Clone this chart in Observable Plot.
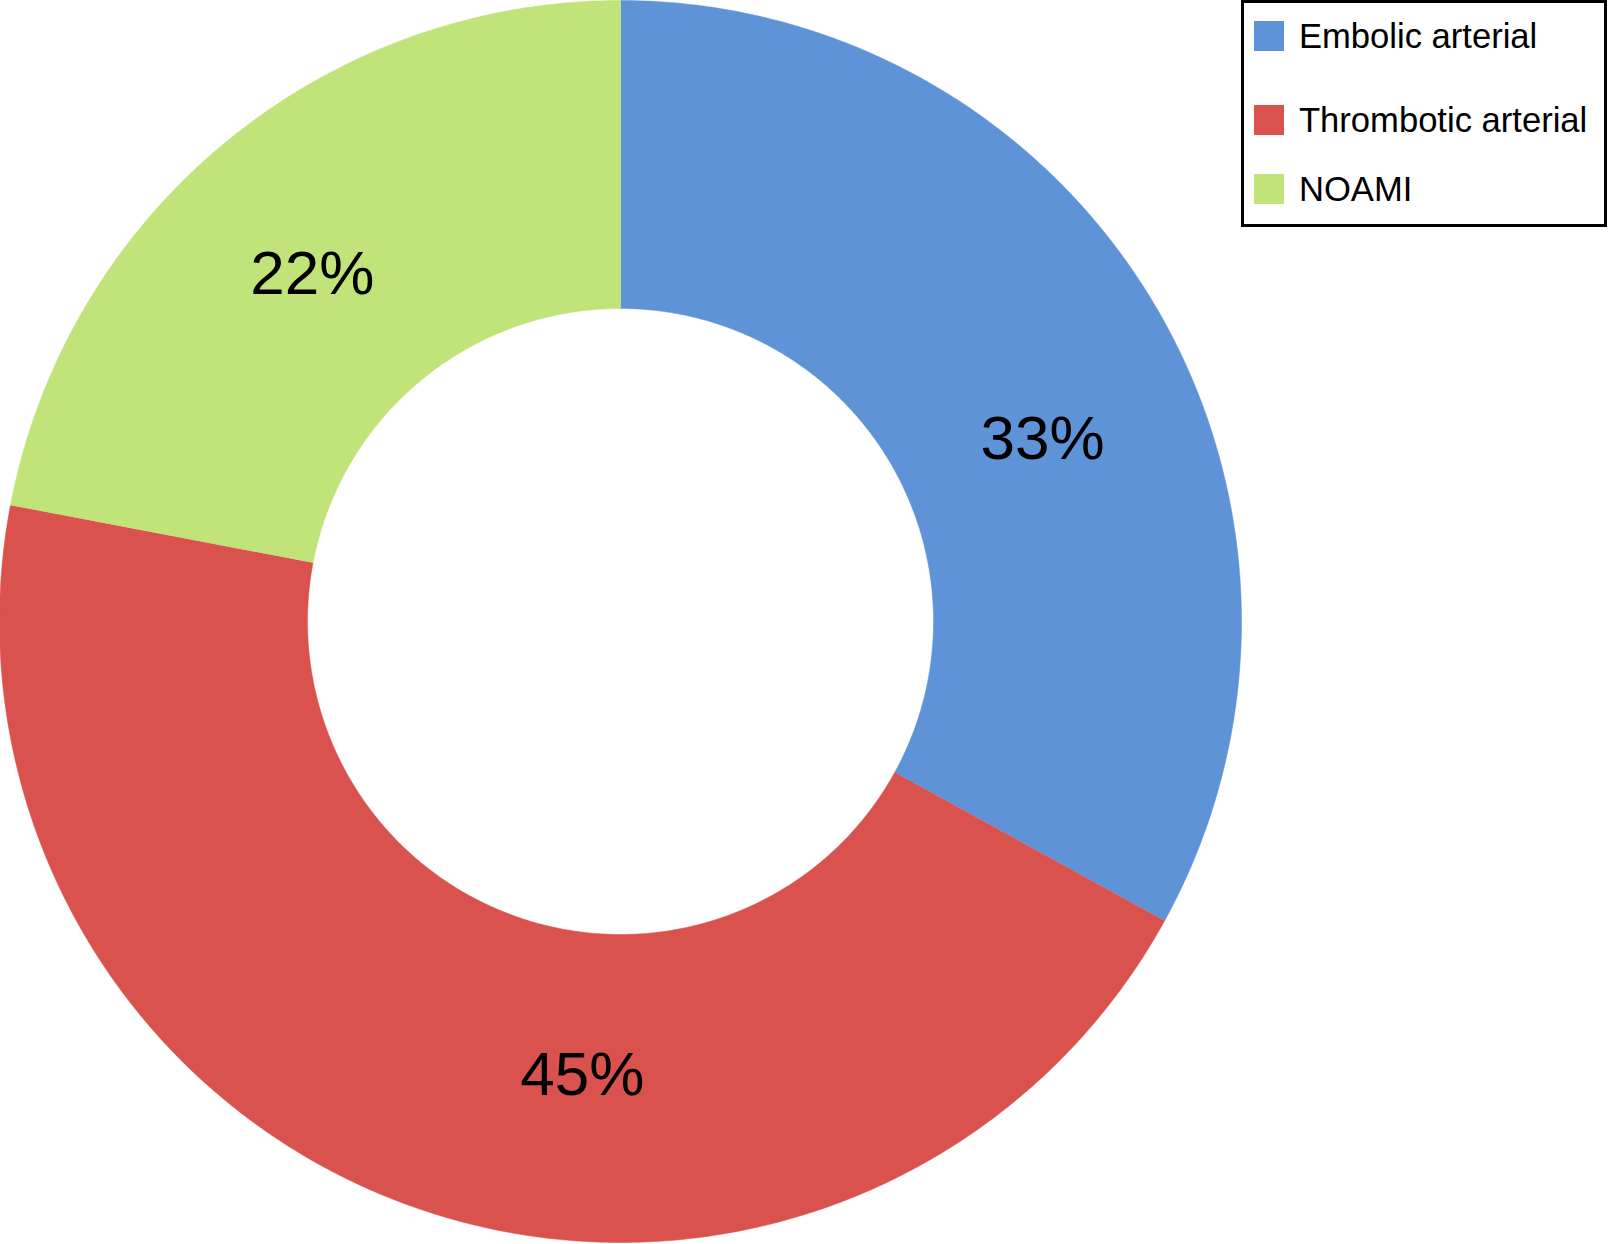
<!DOCTYPE html>
<html>
<head>
<meta charset="utf-8">
<script src="https://cdn.jsdelivr.net/npm/d3@7"></script>
<script src="https://cdn.jsdelivr.net/npm/@observablehq/plot@0.6"></script>
<style>
  html, body { margin: 0; padding: 0; background: #fff; }
  #wrap { position: relative; width: 1608px; height: 1244px; font-family: "Liberation Sans", Arial, Helvetica, sans-serif; }
  #legend { position: absolute; left: 1241px; top: 0px; width: 360px; height: 221px; border: 3px solid #000; background: #fff; }
  .item { position: absolute; left: 10px; height: 40px; display: flex; align-items: center; font-size: 34.6px; color: #000; white-space: nowrap; }
  .sw { width: 30px; height: 30px; margin-right: 15px; }
</style>
</head>
<body>
<div id="wrap"><div id="legend"></div></div>
<script>
// ---- data ----
const categories = ["Embolic arterial", "Thrombotic arterial", "NOAMI"];
const shares = [33, 45, 22];
const labels = ["33%", "45%", "22%"];
const colors = ["#5f93d7", "#d9524e", "#c0e37a"];

// ---- layout constants (not data) ----
const W = 1608, H = 1244;
const CX = 620, CY = 621, R = 621;     // pixels
const INNER = 0.504;                   // inner radius fraction
const labelR = [0.74, 0.735, 0.746];   // label radius fractions
const labelShiftDeg = [7.3, -15, -2.1]; // Excel-style label placement nudges

// ---- build slice geometry from shares ----
const total = d3.sum(shares);
let acc = 0;
const slices = categories.map((c, i) => {
  const a0 = acc / total * 2 * Math.PI;
  acc += shares[i];
  const a1 = acc / total * 2 * Math.PI;
  return {cat: c, a0, a1, i};
});
const pts = [];
for (const s of slices) {
  const n = Math.max(8, Math.ceil((s.a1 - s.a0) / (Math.PI / 360)));
  for (let k = 0; k <= n; k++) {
    const a = s.a0 + (s.a1 - s.a0) * k / n;
    pts.push({cat: s.cat, x: Math.sin(a), y: Math.cos(a)});
  }
  for (let k = n; k >= 0; k--) {
    const a = s.a0 + (s.a1 - s.a0) * k / n;
    pts.push({cat: s.cat, x: INNER * Math.sin(a), y: INNER * Math.cos(a)});
  }
}
const labelData = slices.map(s => {
  const a = (s.a0 + s.a1) / 2 + labelShiftDeg[s.i] * Math.PI / 180;
  return {text: labels[s.i], x: labelR[s.i] * Math.sin(a), y: labelR[s.i] * Math.cos(a)};
});

const chart = Plot.plot({
  width: W, height: H,
  margin: 0,
  style: {background: "transparent", fontFamily: "'Liberation Sans', Arial, Helvetica, sans-serif"},
  x: {domain: [-CX / R, (W - CX) / R], axis: null},
  y: {domain: [-(H - CY) / R, CY / R], axis: null},
  color: {domain: categories, range: colors, type: "ordinal"},
  marks: [
    Plot.line(pts, {x: "x", y: "y", z: "cat", fill: "cat", stroke: "cat", strokeWidth: 0.5, curve: "linear"}),
    Plot.text(labelData, {x: "x", y: "y", text: "text", fontSize: 62, fill: "#000", textAnchor: "middle", dy: -1})
  ]
});
const wrap = document.getElementById("wrap");
wrap.insertBefore(chart, wrap.firstChild);
chart.style.position = "absolute"; chart.style.left = "0"; chart.style.top = "0";

// legend
const legend = document.getElementById("legend");
const rowTops = [13, 97, 166];
categories.forEach((c, i) => {
  const d = document.createElement("div");
  d.className = "item";
  d.style.top = rowTops[i] + "px";
  d.innerHTML = `<span class="sw" style="background:${colors[i]}"></span><span>${c}</span>`;
  legend.appendChild(d);
});
</script>
</body>
</html>
